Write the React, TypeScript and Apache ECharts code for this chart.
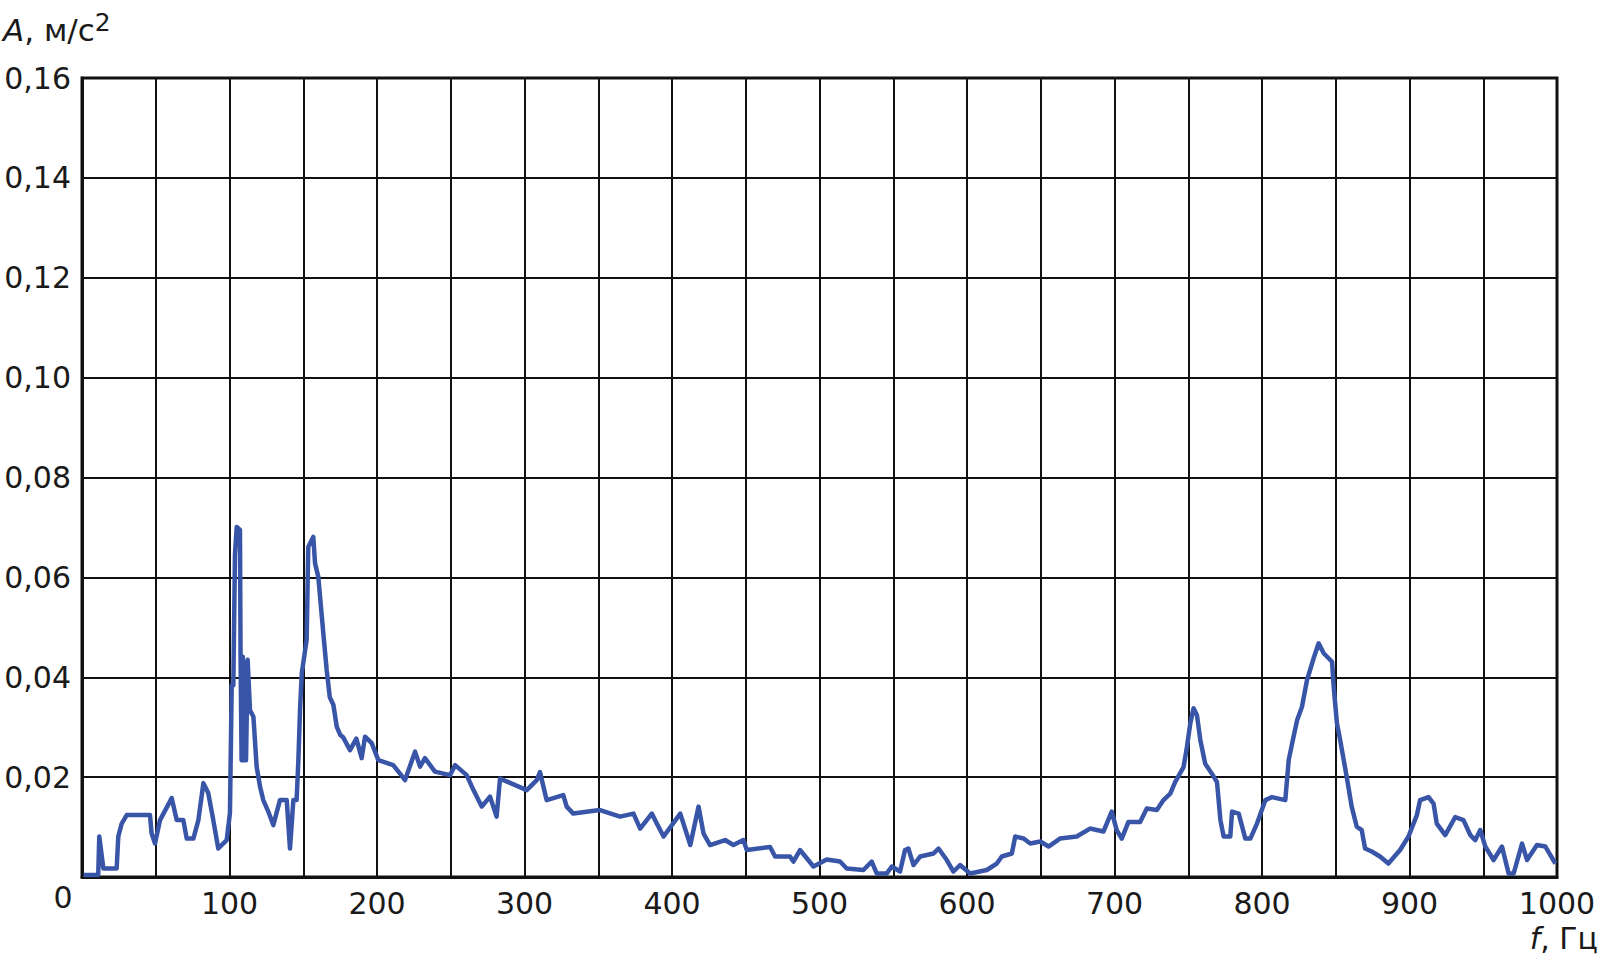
import React, { useEffect, useRef } from "react";
import * as echarts from "echarts";

const FREQ: number[] = [
  1, 11, 11.7, 14.5, 23.5, 24.6, 26.9, 30.3, 34.8, 46.1, 47.2, 49.5, 52.9, 60.8, 64.2, 68.7, 71, 75.5, 78.9, 82.3,
  85.6, 89, 92.4, 98.1, 100.3, 101.5, 102.6, 103.7, 104.9, 107.1, 107.5, 108.2, 109.0, 109.6, 110.5, 111.2, 112.3,
  113.9, 116.2, 118.4, 120.7, 122.9, 126.3, 129.7, 134.2, 138.8, 141, 143.3, 145.5, 146.7, 147.8, 149, 152.3, 153.4,
  156.8, 158, 160.2, 163.6, 165.9, 168, 170.4, 172.7, 175, 177, 181.7, 186, 189.6, 191.9, 196.4, 200.9, 211, 215.6,
  219, 225.8, 229.2, 232.5, 239.3, 249.5, 253, 260.8, 265.4, 271, 276.6, 281.1, 283.4, 289, 301.5, 308.3, 310.5, 315,
  326.3, 328.6, 333.1, 351.2, 364.8, 373.9, 378.4, 386.3, 389.7, 394.3, 405.6, 412.4, 418, 421.4, 425.8, 436, 441.6,
  448.4, 450.7, 466.5, 469.9, 480, 482.3, 486.8, 495.9, 504.9, 513.9, 518.5, 529.8, 535.4, 538.8, 545.6, 549, 554.6,
  558, 560.3, 563.7, 568.2, 577.3, 580.7, 586.3, 590.8, 595.3, 602.1, 613.4, 620.2, 623.6, 630.4, 632.7, 638.4, 642.9,
  649.7, 655.3, 663, 674.4, 683.4, 692.5, 698.1, 701.5, 704.9, 709.4, 717.4, 721.9, 728.7, 733.2, 737.8, 741.1, 746.8,
  749.1, 751.4, 753.6, 755.9, 758.2, 761.5, 766, 769.5, 771.8, 774, 778.5, 779.7, 784.2, 788.7, 792.1, 796.6, 802.3,
  806.8, 815.8, 818.1, 820.4, 823.8, 827.1, 830.5, 835, 838.4, 841.8, 847.5, 848.6, 850.8, 853, 857.4, 860.8, 864.2,
  867.6, 869.9, 874.4, 880, 885.7, 893.6, 899.3, 905, 907.2, 912.9, 916.3, 918.5, 924.2, 931, 936.6, 941.2, 944.6, 948,
  951.4, 957, 962.7, 967.2, 970.6, 976.3, 979.7, 986.4, 992.1, 998.9,
];

const AMP: number[] = [
  0.0004, 0.0004, 0.0081, 0.0017, 0.0017, 0.0081, 0.0107, 0.0124, 0.0124, 0.0124, 0.0087, 0.0067, 0.0114, 0.0158,
  0.0114, 0.0114, 0.0077, 0.0077, 0.0114, 0.0188, 0.0168, 0.0114, 0.0057, 0.0074, 0.0128, 0.0384, 0.0384, 0.0645,
  0.0701, 0.0695, 0.0441, 0.0234, 0.0441, 0.0234, 0.043, 0.0234, 0.0435, 0.0334, 0.0321, 0.0221, 0.0181, 0.0154,
  0.0131, 0.0104, 0.0154, 0.0154, 0.0057, 0.0154, 0.0154, 0.0234, 0.0334, 0.0408, 0.0475, 0.0661, 0.0681, 0.0628,
  0.0601, 0.0488, 0.0414, 0.036, 0.0345, 0.0301, 0.0285, 0.028, 0.0254, 0.0277, 0.0238, 0.0281, 0.0268, 0.0234,
  0.0224, 0.0207, 0.0194, 0.0251, 0.0221, 0.0238, 0.0211, 0.0204, 0.0224, 0.0204, 0.0174, 0.0141, 0.0161, 0.0121,
  0.0197, 0.019, 0.0174, 0.0194, 0.021, 0.0154, 0.0164, 0.0141, 0.0127, 0.0134, 0.0121, 0.0127, 0.0097, 0.0127,
  0.0107, 0.0081, 0.0127, 0.0064, 0.0141, 0.0087, 0.0064, 0.0074, 0.0064, 0.0074, 0.0054, 0.006, 0.0041, 0.0041,
  0.0031, 0.0054, 0.0021, 0.0035, 0.0031, 0.0017, 0.0014, 0.0031, 0.0007, 0.0007, 0.0021, 0.0011, 0.0054, 0.0057,
  0.0024, 0.0041, 0.0047, 0.0057, 0.0034, 0.0011, 0.0024, 0.0007, 0.0014, 0.0027, 0.0041, 0.0047, 0.0081, 0.0077,
  0.0067, 0.0071, 0.0061, 0.0077, 0.0081, 0.0097, 0.0091, 0.0131, 0.0094, 0.0077, 0.011, 0.011, 0.0137, 0.0134,
  0.0154, 0.0167, 0.019, 0.022, 0.026, 0.0308, 0.0338, 0.0324, 0.0274, 0.0227, 0.0207, 0.019, 0.0114, 0.0081, 0.0081,
  0.0131, 0.0127, 0.0077, 0.0077, 0.0107, 0.0154, 0.016, 0.0154, 0.0234, 0.0267, 0.0314, 0.0341, 0.0394, 0.0438,
  0.0468, 0.0448, 0.0431, 0.0381, 0.0308, 0.0274, 0.0201, 0.0141, 0.0101, 0.0094, 0.0057, 0.0051, 0.0041, 0.0027,
  0.0054, 0.0081, 0.0124, 0.0154, 0.016, 0.0147, 0.0107, 0.0084, 0.012, 0.0114, 0.0084, 0.0074, 0.0094, 0.0061,
  0.0034, 0.0061, 0.0007, 0.0007, 0.0067, 0.0034, 0.0064, 0.0061, 0.0027,
];

const X_MIN = 0;
const X_MAX = 1000;
const X_STEP = 50;
const Y_MIN = 0;
const Y_MAX = 0.16;
const Y_STEP = 0.02;
const Y_TITLE = "A";
const Y_UNIT = ", м/с";
const X_TITLE = "f";
const X_UNIT = ", Гц";

const FONT = "'DejaVu Sans', Verdana, sans-serif";
const TEXT_COLOR = "#1a1a1a";
const LINE_COLOR = "#3955a8";

export default function App() {
  const ref = useRef<HTMLDivElement>(null);

  useEffect(() => {
    if (!ref.current) return;
    const chart = echarts.init(ref.current, undefined, { renderer: "svg" });
    const data = FREQ.map((f, i) => [f, AMP[i]]);
    chart.setOption({
      animation: false,
      backgroundColor: "#ffffff",
      textStyle: { fontFamily: FONT },
      grid: {
        left: 82,
        top: 78,
        width: 1475,
        height: 799,
        show: true,
        borderColor: "#111111",
        borderWidth: 3,
        backgroundColor: "transparent",
      },
      xAxis: {
        type: "value",
        min: X_MIN,
        max: X_MAX,
        interval: X_STEP,
        axisLine: { show: true, lineStyle: { color: "#111111", width: 3 } },
        axisTick: { show: false },
        splitLine: { show: true, lineStyle: { color: "#111111", width: 2 } },
        axisLabel: {
          margin: 11,
          fontSize: 30,
          color: TEXT_COLOR,
          fontFamily: FONT,
          showMaxLabel: true,
          formatter: (v: number) => (v === 0 || v % 100 !== 0 ? "" : String(v)),
        },
      },
      yAxis: {
        type: "value",
        min: Y_MIN,
        max: Y_MAX,
        interval: Y_STEP,
        axisLine: { show: true, lineStyle: { color: "#111111", width: 3 } },
        axisTick: { show: false },
        splitLine: { show: true, lineStyle: { color: "#111111", width: 2 } },
        axisLabel: {
          margin: 11,
          fontSize: 30,
          color: TEXT_COLOR,
          fontFamily: FONT,
          formatter: (v: number) => (v === 0 ? "" : v.toFixed(2).replace(".", ",")),
        },
      },
      series: [
        {
          type: "line",
          data,
          showSymbol: false,
          symbol: "none",
          lineStyle: { color: LINE_COLOR, width: 4.5, join: "round" },
          z: 5,
        },
      ],
      graphic: [
        {
          type: "text",
          x: 3,
          y: 10,
          style: {
            text: `{i|${Y_TITLE}}{n|${Y_UNIT}}{s|2}`,
            font: `31px ${FONT}`,
            fill: TEXT_COLOR,
            rich: {
              i: { fontStyle: "italic", fontSize: 31, fontFamily: FONT, fill: TEXT_COLOR, lineHeight: 40 },
              n: { fontSize: 31, fontFamily: FONT, fill: TEXT_COLOR, lineHeight: 40 },
              s: { fontSize: 25, fontFamily: FONT, fill: TEXT_COLOR, verticalAlign: "top", lineHeight: 40 },
            },
          },
        },
        {
          type: "text",
          x: 63,
          y: 897,
          style: {
            text: "0",
            font: `30px ${FONT}`,
            fill: TEXT_COLOR,
            align: "center",
            verticalAlign: "middle",
          },
        },
        {
          type: "text",
          x: 1598,
          y: 938,
          style: {
            text: `{i|${X_TITLE}}{n|${X_UNIT}}`,
            font: `30px ${FONT}`,
            fill: TEXT_COLOR,
            align: "right",
            verticalAlign: "middle",
            rich: {
              i: { fontStyle: "italic", fontSize: 30, fontFamily: FONT, fill: TEXT_COLOR },
              n: { fontSize: 30, fontFamily: FONT, fill: TEXT_COLOR },
            },
          },
        },
      ],
    });
    return () => chart.dispose();
  }, []);

  return (
    <div
      ref={ref}
      style={{ position: "fixed", left: 0, top: 0, width: 1603, height: 961, background: "#fff" }}
    />
  );
}
